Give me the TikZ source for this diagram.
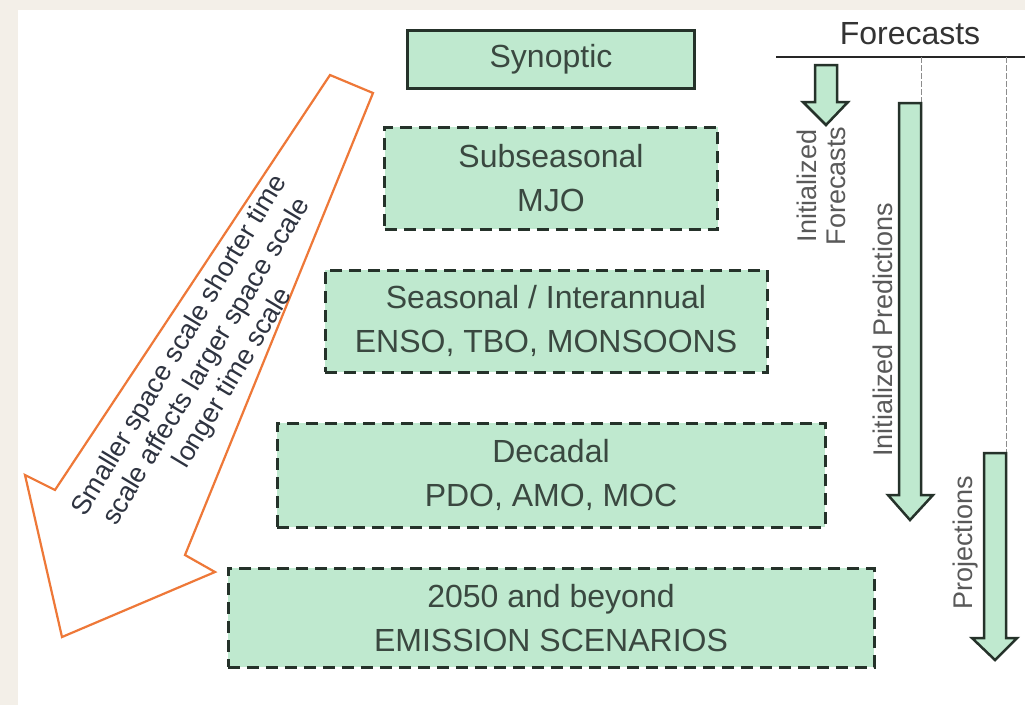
\documentclass[tikz,border=0pt]{standalone}
\usepackage{fontspec}
\setmainfont{Liberation Sans}
\usetikzlibrary{positioning}
\definecolor{mint}{HTML}{BFE9CF}
\definecolor{boxline}{HTML}{25322A}
\definecolor{boxtext}{HTML}{3A4840}
\definecolor{scaleorange}{HTML}{EE7838}
\definecolor{scaleink}{HTML}{2E3340}
\definecolor{paper}{HTML}{F3EFE8}
\tikzset{
    node distance=38pt, % gap between the scale boxes
    scalebox/.style={fill=mint, draw=boxline, line width=2.5pt, text=boxtext, align=center, inner sep=0pt, font=\fontsize{32}{44}\selectfont},
    dashbox/.style={scalebox, line width=3pt, dash pattern=on 12pt off 7pt},
    fatarrow/.style={fill=mint, draw=boxline, line width=2.5pt, line join=miter},
    sidelabel/.style={rotate=90, text=black!65, align=center, font=\fontsize{27}{29}\selectfont},
    guide/.style={draw=black!45, line width=0.8pt, dash pattern=on 6pt off 2pt},
}

\begin{document}
\begin{tikzpicture}[x=1pt,y=1pt]
      \useasboundingbox (0,0) rectangle (1025,-705);
      \fill[paper] (0,0) rectangle (1025,-705);
      \fill[white] (18,-10) rectangle (1025,-705);

      % the scales, top to bottom
      \node (q_synoptic) [scalebox, minimum width=287pt, minimum height=58pt] at (551,-59.5) {Synoptic};
      \node (q_subseasonal) [dashbox, below=36pt of q_synoptic, minimum width=333pt, minimum height=102pt] {Subseasonal\\MJO};
      \node (q_seasonal) [dashbox, below=of q_subseasonal, xshift=-5pt, minimum width=442pt, minimum height=102pt] {Seasonal / Interannual\\ENSO, TBO, MONSOONS};
      \node (q_decadal) [dashbox, below=48pt of q_seasonal, xshift=5pt, minimum width=548pt, minimum height=104pt] {Decadal\\PDO, AMO, MOC};
      \node (q_beyond) [dashbox, below=of q_decadal, minimum width=646pt, minimum height=99pt] {2050 and beyond\\EMISSION SCENARIOS};

      % big orange arrow on the left
      \draw[scaleorange, line width=2.2pt, fill=white, line join=miter]
        (330,-75) -- (373,-93) -- (185,-555) -- (215,-572) -- (62,-637) -- (25,-475) -- (55,-490) -- cycle;
      \node (q_scaletext) [rotate=59, align=center, text=scaleink, font=\fontsize{27}{31}\selectfont] at (207,-362)
        {Smaller space scale shorter time\\scale affects larger space scale\\longer time scale};

      % forecasts side
      \node (q_forecasts) [text=black!80, font=\fontsize{32}{36}\selectfont] at (910,-34) {Forecasts};
      \coordinate (q_ruleleft) at (776,-57);
      \coordinate (q_ruleright) at (1025,-57);
      \draw[line width=2.5pt, black!85] (q_ruleleft) -- (q_ruleright);

      \coordinate (q_predtop) at (921,-103);
      \coordinate (q_projtop) at (1006,-453);
      \draw[guide] (921,-57) -- (q_predtop);
      \draw[guide] (1006,-57) -- (q_projtop);

      \draw[fatarrow] (815,-65) -- (815,-102) -- (803,-102) -- (826,-125) -- (848,-102) -- (837,-102) -- (837,-65) -- cycle;
      \draw[fatarrow] (899,-103) -- (899,-495) -- (888,-495) -- (910,-520) -- (933,-495) -- (921,-495) -- (q_predtop) -- cycle;
      \draw[fatarrow] (984,-453) -- (984,-638) -- (972,-638) -- (995,-660) -- (1017,-638) -- (1006,-638) -- (q_projtop) -- cycle;

      \node (q_initforecasts) [sidelabel] at (821,-186) {Initialized\\Forecasts};
      \node (q_initpredictions) [sidelabel] at (883,-330) {Initialized Predictions};
      \node (q_projections) [sidelabel] at (966,-543) {Projections};
    \end{tikzpicture}
\end{document}
